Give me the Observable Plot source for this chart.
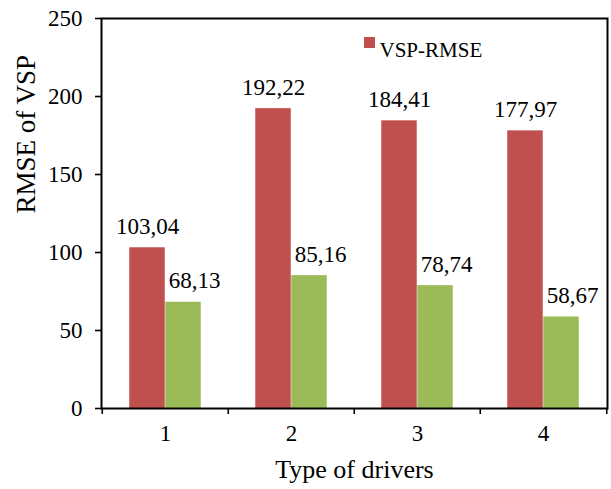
<!DOCTYPE html>
<html>
<head>
<meta charset="utf-8">
<script src="https://cdn.jsdelivr.net/npm/d3@7"></script>
<script src="https://cdn.jsdelivr.net/npm/@observablehq/plot@0.6"></script>
<style>
  body { margin: 0; background: #fff; }
  #chart svg { display: block; }
</style>
</head>
<body>
<div id="chart"></div>
<script>
const categories = ["1", "2", "3", "4"];
const seriesNames = ["VSP-RMSE", "Series 2"];
const vspRmse = [103.04, 192.22, 184.41, 177.97];
const series2 = [68.13, 85.16, 78.74, 58.67];
const yTicks = [0, 50, 100, 150, 200, 250];

const W = 611, H = 489;
const mL = 101, mR = 4, mT = 18, mB = 81;
const step = (W - mL - mR) / categories.length;   // band width in px
const barW = 36;
const outer = (step - 2 * barW) / 2;

const rows = [];
categories.forEach((c, i) => {
  rows.push({cat: c, series: seriesNames[0], value: vspRmse[i]});
  rows.push({cat: c, series: seriesNames[1], value: series2[i]});
});
const redRows = rows.filter(d => d.series === seriesNames[0]);
const greenRows = rows.filter(d => d.series === seriesNames[1]);
const fmt = v => v.toFixed(2).replace(".", ",");

const RED = "#C0504D", GREEN = "#9BBB59";
const FONT = "Liberation Serif";
const T = {fontFamily: FONT, fontVariant: "normal"};

const chart = Plot.plot({
  width: W,
  height: H,
  marginLeft: mL, marginRight: mR, marginTop: mT, marginBottom: mB,
  style: {fontFamily: FONT, color: "#000", background: "#fff"},
  x: {type: "band", domain: categories, padding: 0},
  y: {domain: [0, 250]},
  marks: [
    Plot.barY(redRows, {x: "cat", y: "value", fill: RED, insetLeft: outer, insetRight: step - outer - barW}),
    Plot.barY(greenRows, {x: "cat", y: "value", fill: GREEN, insetLeft: outer + barW, insetRight: outer}),
    Plot.text(redRows, {x: "cat", y: "value", text: d => fmt(d.value), dx: -barW / 2, dy: -14, lineAnchor: "bottom", fontSize: 23, fill: "#000", ...T}),
    Plot.text(greenRows, {x: "cat", y: "value", text: d => fmt(d.value), dx: barW / 2 + 11, dy: -14, lineAnchor: "bottom", fontSize: 23, fill: "#000", ...T}),
    Plot.frame({stroke: "#000", strokeWidth: 2}),
    Plot.axisY({ticks: yTicks, tickSize: 6, tickPadding: 13, fontSize: 23, label: null, strokeWidth: 1.6, ...T}),
    Plot.axisX({tickSize: 0, tickPadding: 16, fontSize: 23, label: null, ...T}),
    Plot.axisX({ticks: categories, tickSize: 6, tickFormat: () => "", label: null, dx: -step / 2, strokeWidth: 1.6}),
    Plot.axisX({ticks: [categories[categories.length - 1]], tickSize: 6, tickFormat: () => "", label: null, dx: step / 2, strokeWidth: 1.6}),
    Plot.text(["Type of drivers"], {frameAnchor: "bottom", dy: 69, lineAnchor: "bottom", fontSize: 26, fill: "#000", ...T}),
    Plot.text(["RMSE of VSP"], {frameAnchor: "left", rotate: -90, dx: -75, fontSize: 27, fill: "#000", ...T}),
    Plot.dot([seriesNames[0]], {frameAnchor: "top-left", dx: 369 - mL, dy: 42 - mT, symbol: "square", r: 6.2, fill: RED}),
    Plot.text([seriesNames[0]], {frameAnchor: "top-left", dx: 379 - mL, dy: 42 - mT, textAnchor: "start", fontSize: 21, fill: "#000", ...T})
  ]
});
document.getElementById("chart").appendChild(chart);
</script>
</body>
</html>
